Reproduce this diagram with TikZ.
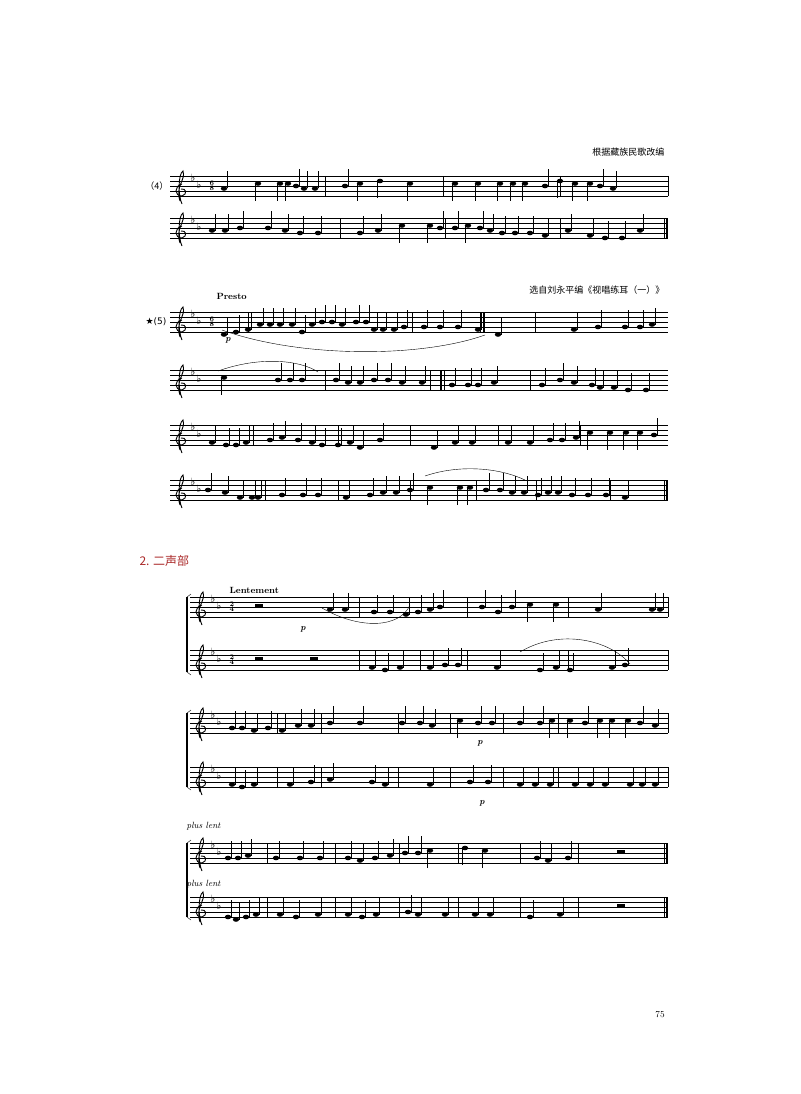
\documentclass[tikz,border=0pt]{standalone}
\usepackage{fontspec}
\newfontfamily\cjk{Noto Sans CJK SC}
\newfontfamily\djv{DejaVu Sans}
\tikzset{stf/.style={line width=0.5pt},bar/.style={line width=0.6pt},hd/.style={fill=black}}
\newcommand{\staffat}[3]{\foreach \i in {0,...,4}{\draw[stf] (#1,{#3+\i*5}) -- (#2,{#3+\i*5});}
 \draw[line width=0.9pt] (#1+10,#3+25) .. controls (#1+5,#3+10) and (#1+16,#3+4) .. (#1+13,#3-5) .. controls (#1+8,#3-2) and (#1+8,#3+20) .. (#1+12,#3+28);
 \draw[line width=0.9pt] (#1+12,#3+8) .. controls (#1+4,#3+10) and (#1+4,#3+20) .. (#1+12,#3+20) .. controls (#1+18,#3+18) and (#1+16,#3+12) .. (#1+11,#3+13);
 \node[font=\djv\normalsize,inner sep=0] at (#1+23,#3+2) {♭};
 \node[font=\djv\normalsize,inner sep=0] at (#1+29,#3+9) {♭};}
\newcommand{\bars}[2]{\foreach \x in {#2}{\draw[bar] (\x,#1) -- (\x,#1+20);}}
\newcommand{\notes}[2]{\foreach \x/\s in {#2}{\fill (\x,{#1+\s*2.5}) ellipse (3.2 and 2.3);
 \ifnum\s<4 \draw (\x-3,{#1+\s*2.5}) -- (\x-3,{#1+\s*2.5+17}); \else \draw (\x+3,{#1+\s*2.5}) -- (\x+3,{#1+\s*2.5-17}); \fi}}
\newcommand{\fin}[2]{\draw[bar] (#1-4,#2) -- (#1-4,#2+20); \draw[line width=2pt] (#1-1,#2) -- (#1-1,#2+20);}
\begin{document}
\begin{tikzpicture}[x=1pt,y=-1pt]
\useasboundingbox (0,0) rectangle (800,1094);
% header
\node[anchor=east,font=\cjk\small] at (668,152) {根据藏族民歌改编};
\node[anchor=east,font=\cjk\small] at (668,290) {选自刘永平编《视唱练耳（一）》};
% (4)
\node[anchor=east,font=\cjk\small] at (172,186) {（4）};
\staffat{170}{668}{176}
\node[font=\bfseries\scriptsize,align=center,inner sep=0] at (212,186) {6\\[-3pt]8};
\bars{176}{325,443,560}\bars{176}{668}
\notes{176}{224/5,258/3,280/3,288/3,296/4,304/5,315/5,345/4,360/3,380/2,410/3,455/3,478/3,500/3,513/3,525/3,545/4,560/2,575/3,590/3,600/4,613/5}
\staffat{170}{668}{218}
\bars{218}{340,445,560}\fin{668}{218}
\notes{218}{212/5,225/5,240/4,268/4,285/5,300/6,318/6,360/6,378/5,402/3,430/3,440/4,455/4,468/3,480/4,490/5,502/6,515/6,530/6,545/7,568/5,590/7,605/8,622/8,640/5}
% (5)
\node[font=\bfseries\small,anchor=west] at (213,296) {Presto};
\node[anchor=east,font=\djv\small] at (170,322) {★(5)};
\staffat{170}{668}{312}
\node[font=\bfseries\scriptsize,align=center,inner sep=0] at (212,322) {6\\[-3pt]8};
\node[font=\bfseries\itshape\small] at (228,340) {p};
\bars{312}{248,412,535}\draw[bar](480,312)--(480,332);\draw[line width=1.8pt](484,312)--(484,332);
\notes{312}{224/9,236/8,248/7,260/5,270/5,280/5,292/5,302/8,312/5,322/4,332/4,342/5,356/4,366/4,374/7,383/7,394/7,404/6,424/6,440/6,458/6,478/7,498/9,574/7,598/6,625/6,640/6,652/5}
\draw (222,330) .. controls (300,358) and (420,358) .. (485,335);
\staffat{170}{668}{370}
\bars{370}{325,430,530}\draw[line width=1.8pt](441,370)--(441,390);\draw[bar](444,370)--(444,390);
\notes{370}{224/3,278/4,290/4,302/4,336/4,348/5,360/5,374/4,388/4,402/5,422/5,452/6,468/6,478/6,494/5,542/6,560/4,574/5,592/6,600/7,614/7,628/8,646/8}
\draw (218,371) .. controls (260,356) and (300,360) .. (318,372);
\staffat{170}{668}{425}
\bars{425}{253,338,410,498,580}
\notes{425}{212/7,226/8,236/8,246/7,270/6,282/5,298/6,312/7,322/8,338/8,350/7,360/9,380/6,434/9,455/7,472/7,508/7,530/7,550/6,562/6,576/5,590/3,610/3,626/3,640/3,654/4}
\staffat{170}{668}{480}
\bars{480}{265,338,410,476,536,610}\fin{668}{480}
\notes{480}{208/4,225/5,240/7,252/7,258/7,282/6,303/6,318/6,346/7,370/6,383/5,396/5,410/4,430/3,460/3,470/3,486/4,500/4,512/5,524/5,538/6,548/5,558/5,572/6,588/6,606/6,625/7}
\draw (425,476) .. controls (460,464) and (500,468) .. (525,480);
% section 2
\node[anchor=west,font=\cjk\large,text={rgb,255:red,170;green,40;blue,40}] at (136,561) {2. 二声部};
\node[font=\bfseries\small,anchor=west] at (226,590) {Lentement};
\foreach \t/\b in {597/672,713/787,843/917}{\draw[line width=2.5pt] (187,\t) -- (187,\b); \draw (187,\t)--(191,\t-3); \draw(187,\b)--(191,\b+3);}
% sys1
\staffat{190}{668}{597}
\node[font=\bfseries\scriptsize,align=center,inner sep=0] at (232,607) {2\\[-3pt]4};
\node[font=\bfseries\itshape\small] at (303,629) {p};
\bars{597}{359,467,568}\bars{597}{668}
\notes{597}{330/5,345/5,374/6,390/6,406/7,418/6,430/5,440/4,482/4,498/6,512/4,530/3,556/3,598/5,652/5,660/5}
\fill (255,604) rectangle (263,607);
\staffat{190}{668}{650}
\node[font=\bfseries\scriptsize,align=center,inner sep=0] at (232,660) {2\\[-3pt]4};
\bars{650}{359,420,467,568}\bars{650}{668}
\notes{650}{372/7,385/8,400/7,430/7,445/6,458/6,497/7,540/8,556/7,570/8,612/7,625/6}
\fill (255,657) rectangle (263,660);\fill (310,657) rectangle (318,660);
\draw (322,608) .. controls (360,630) and (400,628) .. (410,605);
\draw (520,652) .. controls (560,628) and (610,640) .. (630,664);
% sys2
\staffat{190}{668}{713}
\bars{713}{277,321,398,450,503,558}\bars{713}{668}
\notes{713}{232/6,242/6,254/7,268/6,282/7,298/5,311/5,330/4,360/4,402/4,420/4,432/5,460/3,478/4,492/4,520/4,540/4,552/3,570/3,585/4,600/3,612/3,628/3,640/4,655/5}
\node[font=\bfseries\itshape\small] at (480,743) {p};
\staffat{190}{668}{767}
\bars{767}{277,321,398,450,503,558}\bars{767}{668}
\notes{767}{232/7,242/8,254/7,290/7,311/6,330/5,372/6,385/7,430/7,470/6,488/6,520/7,535/7,550/7,575/7,590/7,605/7,630/7,642/7,655/7}
\node[font=\bfseries\itshape\small] at (482,803) {p};
% sys3
\node[font=\itshape\small,anchor=west] at (183,826) {plus lent};
\node[font=\itshape\small,anchor=west] at (183,884) {plus lent};
\staffat{190}{668}{843}
\bars{843}{267,335,399,458,520,578}\fin{668}{843}
\notes{843}{228/6,238/6,248/5,276/6,300/6,320/6,348/6,360/7,375/6,390/5,405/4,418/4,430/3,465/2,485/3,537/6,548/7,568/6}
\fill (617,850) rectangle (625,853);
\staffat{190}{668}{897}
\bars{897}{267,335,399,458,520,578}\fin{668}{897}
\notes{897}{228/8,236/9,246/8,256/7,280/7,296/8,318/7,348/7,362/8,376/7,408/6,418/7,445/7,475/7,490/7,530/8,560/7}
\fill (617,904) rectangle (625,907);
\node[font=\small] at (660,1015) {75};
\end{tikzpicture}
\end{document}
